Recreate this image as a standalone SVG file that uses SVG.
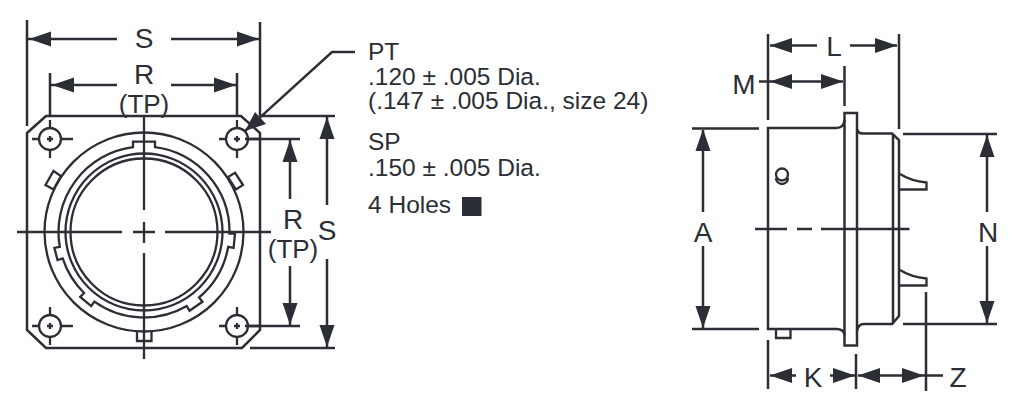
<svg xmlns="http://www.w3.org/2000/svg" width="1015" height="406" viewBox="0 0 1015 406">
<style>
.l{fill:none;stroke:#2b2e34;stroke-width:2.3}
.t{stroke-width:2.5}
.a{fill:#2b2e34;stroke:none}
text{font-family:"Liberation Sans",Arial,sans-serif;fill:#2b2e34}
.d{font-size:28px;text-anchor:middle}
.p{font-size:26px;text-anchor:middle}
.n{font-size:24.5px}
</style>
<defs>
<g id="hole"><circle class="l" r="11"/><path class="l" d="M-18 0H-11M11 0H23M0-12V-19M0 12V19M-3 0H3M0-3V3"/></g>
<polygon id="ar" class="a" points="0,0 -22,-7.5 -22,7.5"/>
</defs>
<rect width="1015" height="406" fill="#fff"/>
<g id="front-view">
<path class="l t" d="M27 133L46 116H241L260 133V330L242 348H46L27 330Z"/>
<circle class="l" cx="144" cy="232" r="99.5"/>
<circle class="l" cx="144" cy="232" r="78.5"/>
<circle class="l" cx="144" cy="232" r="73.5"/>
<path class="l" d="M133 147.200V141.600H155V147.200A85.500 85.500 0 0 1 229.500 233.500L235 233.600L233.600 247.800L228.200 246.800A85.500 85.500 0 0 1 199 297.500L202.500 301.700L189.500 310.800L186.750 306A85.500 85.500 0 0 1 94.350 301.600L91.200 306.100L80.200 296.900L84.100 293A85.500 85.500 0 0 1 62.700 258.400L57.500 260.100L54.400 247.800L59.800 246.800A85.500 85.500 0 0 1 133 147.200Z"/>
<path class="l" d="M53.500 171L61 176L53.500 189.500L45.500 185ZM235 172.700L243 185L236 189.500L228 177ZM137 332V341H151.500V332"/>
<use href="#hole" x="50" y="139"/><use href="#hole" x="237" y="139"/><use href="#hole" x="50" y="326"/><use href="#hole" x="237" y="326"/>
<path class="l" d="M144 116V210M144 222V243M144 253V359M17 232H122M133 232H155M165 232H271"/>
</g>
<g id="side-view">
<path class="l t" d="M768 128H836Q844 128 844.500 120V113H857V129Q858 134 864 133.500H892L899 140V316L892 324H864Q858 324 857 331V345.500H844.500V335Q844 329 836 329H768Z"/>
<path class="l t" d="M844.500 120V335M857 129V331M893 134V324"/>
<path class="l" d="M900 174Q911 181 926.500 182.500V189.500H900M900 270Q911 277 926.500 278.500V285.500H900M776 329V338H790.500V329"/>
<circle class="l" cx="782" cy="174.500" r="6"/><path class="l" d="M776 178A6 6 0 0 0 788 178"/>
<path class="l" d="M755 229H787M797 229H812M821 229H909.500"/>
</g>
<g id="connectors">
<path class="l t" d="M27 20V126M260 22V116M50 73V116M237 73V116M28 39H117M171 39H259M51 85H117M171 85H236M355 52H332L245 131M260 116H335M245 139H300M250 348H335M245 326H300M290 139V199M290 266V326M327 117V205M327 259V348"/>
<use href="#ar" transform="translate(29 39) rotate(180)"/><use href="#ar" transform="translate(259 39)"/>
<use href="#ar" transform="translate(52 85) rotate(180)"/><use href="#ar" transform="translate(236 85)"/>
<use href="#ar" transform="translate(290 140) rotate(-90)"/><use href="#ar" transform="translate(290 325) rotate(90)"/>
<use href="#ar" transform="translate(327 117) rotate(-90)"/><use href="#ar" transform="translate(327 347) rotate(90)"/>
<polygon class="a" points="245,131 255,112 266,124"/>
<path class="l t" d="M768 34V120M899 34V129M844.500 66V106M770 45.500H817M850 45.500H897M759 81.500H843M692 128.500H759M692 329H759M903 134H997M903 324H997M703 130V212M703 246V328M987 135V212M987 246V323M768 340V389M856 354V389M926 292V391M770 375.500H796M830 375.500H855M858 375.500H943"/>
<use href="#ar" transform="translate(770 45.500) rotate(180)"/><use href="#ar" transform="translate(897 45.500)"/>
<use href="#ar" transform="translate(770 81.500) rotate(180)"/><use href="#ar" transform="translate(843 81.500)"/>
<use href="#ar" transform="translate(703 129) rotate(-90)"/><use href="#ar" transform="translate(703 328) rotate(90)"/>
<use href="#ar" transform="translate(987 135) rotate(-90)"/><use href="#ar" transform="translate(987 323) rotate(90)"/>
<use href="#ar" transform="translate(770 375.500) rotate(180)"/><use href="#ar" transform="translate(855 375.500)"/>
<use href="#ar" transform="translate(858 375.500) rotate(180)"/><use href="#ar" transform="translate(924 375.500)"/>
</g>
<g id="labels">
<text class="d" x="144" y="48">S</text>
<text class="d" x="144" y="84">R</text>
<text class="p" x="144" y="113">(TP)</text>
<text class="d" x="293" y="229">R</text>
<text class="p" x="293" y="258">(TP)</text>
<text class="d" x="327" y="240">S</text>
<text class="d" x="834" y="56">L</text>
<text class="d" x="744" y="94">M</text>
<text class="d" x="703" y="242">A</text>
<text class="d" x="988" y="242">N</text>
<text class="d" x="813" y="387">K</text>
<text class="d" x="958" y="387">Z</text>
<text class="n" x="368" y="59.500">PT</text>
<text class="n" x="368" y="85">.120 ± .005 Dia.</text>
<text class="n" x="368" y="109">(.147 ± .005 Dia., size 24)</text>
<text class="n" x="368" y="150">SP</text>
<text class="n" x="368" y="175.500">.150 ± .005 Dia.</text>
<text class="n" x="368" y="212.500">4 Holes</text>
<rect class="a" x="462" y="197" width="19.500" height="19"/>
</g>
</svg>
